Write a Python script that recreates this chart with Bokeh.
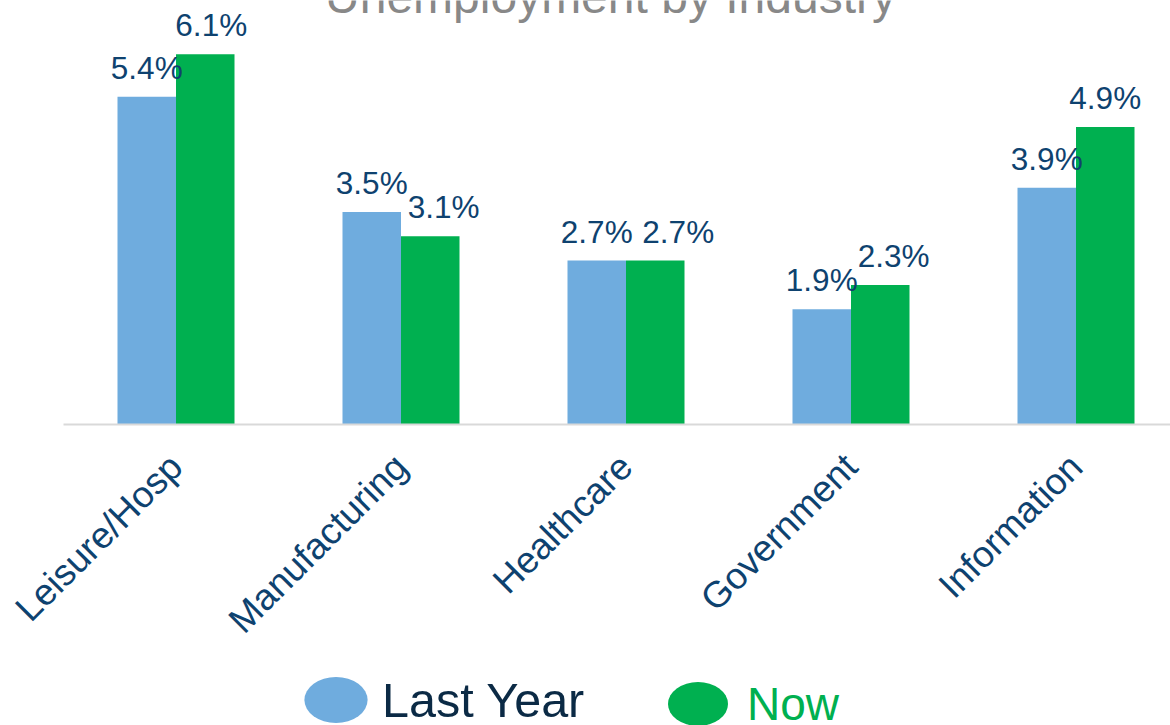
import math
from bokeh.plotting import figure
from bokeh.layouts import column
from bokeh.models import ColumnDataSource, Range1d, FixedTicker, Legend, LegendItem, Label
from bokeh.transform import dodge
from bokeh.core.properties import value
from bokeh.embed import file_html
from bokeh.resources import INLINE

# ---- data ----
categories = ["Leisure/Hosp", "Manufacturing", "Healthcare", "Government", "Information"]
last_year = [5.4, 3.5, 2.7, 1.9, 3.9]
now = [6.1, 3.1, 2.7, 2.3, 4.9]
series_names = ["Last Year", "Now"]
title_text = "Unemployment by Industry"

FONT = "Liberation Sans"
BLUE = "#6FACDE"
GREEN = "#00B050"
LABEL_COLOR = "#0E426F"
LEGEND_DARK = "#0B2A45"
TITLE_COLOR = "#888888"

W = 1170
H1 = 660
BORDER_LEFT = 63
BORDER_BOTTOM = 236
Y_MAX = 6.985
FRAME_H = H1 - BORDER_BOTTOM
PX_PER_UNIT = FRAME_H / Y_MAX

idx = list(range(len(categories)))
# nudge the "Now" value label to the right when it would collide with its neighbour
now_nudge = [max(0.0, 23 - 0.4 * abs(n - l) * PX_PER_UNIT) for l, n in zip(last_year, now)]
src = ColumnDataSource(dict(
    idx=idx, cat=categories, last=last_year, now=now,
    last_lbl=[f"{v:.1f}%" for v in last_year],
    now_lbl=[f"{v:.1f}%" for v in now],
    now_nudge=now_nudge,
))

p = figure(width=W, height=H1, output_backend="svg", toolbar_location=None,
           x_range=Range1d(-0.5, -0.5 + (W - BORDER_LEFT) / 225.0), y_range=Range1d(0, Y_MAX),
           y_axis_location=None,
           min_border_left=BORDER_LEFT, min_border_right=0, min_border_top=0,
           min_border_bottom=BORDER_BOTTOM)
p.outline_line_color = None
p.xgrid.visible = False
p.ygrid.visible = False

bw = 0.26
p.vbar(x=dodge("idx", -bw / 2, range=p.x_range), top="last", width=bw, source=src,
       fill_color=BLUE, line_color=None)
p.vbar(x=dodge("idx", bw / 2, range=p.x_range), top="now", width=bw, source=src,
       fill_color=GREEN, line_color=None)

lbl_style = dict(text_align="center", text_baseline="alphabetic", y_offset=-29,
                 text_font=value(FONT), text_font_size="31.5px", text_color=LABEL_COLOR)
p.text(x=dodge("idx", -bw / 2, range=p.x_range), y="last", text="last_lbl", source=src,
       **lbl_style)
p.text(x=dodge("idx", bw / 2, range=p.x_range), y="now", text="now_lbl", source=src,
       x_offset="now_nudge", **lbl_style)

ax = p.xaxis[0]
ax.ticker = FixedTicker(ticks=idx)
ax.major_label_overrides = {i: c for i, c in zip(idx, categories)}
ax.axis_line_color = "#D9D9D9"
ax.axis_line_width = 2
ax.major_tick_line_color = None
ax.minor_tick_line_color = None
ax.major_label_orientation = math.pi / 4
ax.major_label_text_font = FONT
ax.major_label_text_font_size = "37px"
ax.major_label_text_color = LABEL_COLOR
ax.major_label_standoff = 30

p.add_layout(Label(x=547, y=428, x_units="screen", y_units="screen", text=title_text,
                   text_align="center", text_baseline="alphabetic",
                   text_font=FONT, text_font_size="48px", text_color=TITLE_COLOR))

# ---- legend strip ----
H2 = 65
lg = figure(width=W, height=H2, output_backend="svg", toolbar_location=None,
            x_range=Range1d(0, 1), y_range=Range1d(0, 1),
            x_axis_location=None, y_axis_location=None,
            min_border_left=0, min_border_right=0, min_border_top=0, min_border_bottom=0)
lg.outline_line_color = None
lg.xgrid.visible = False
lg.ygrid.visible = False

r1 = lg.ellipse(x=[0.5], y=[-10], width=63, height=46, width_units="screen",
                height_units="screen", fill_color=BLUE, line_color=None)
r2 = lg.ellipse(x=[0.5], y=[-10], width=60, height=44, width_units="screen",
                height_units="screen", fill_color=GREEN, line_color=None)

common = dict(orientation="horizontal", padding=0,
              margin=0, border_line_color=None, background_fill_alpha=0,
              label_text_font=FONT)
leg1 = Legend(items=[LegendItem(label=series_names[0], renderers=[r1])],
              glyph_width=79, glyph_height=79, label_text_font_size="48.5px",
              location=(233, -14), label_standoff=7, label_text_color=LEGEND_DARK, **common)
leg2 = Legend(items=[LegendItem(label=series_names[1], renderers=[r2])],
              glyph_width=75, glyph_height=75, label_text_font_size="46px",
              location=(597, -16), label_standoff=12, label_text_color=GREEN, **common)
lg.add_layout(leg1)
lg.add_layout(leg2)

layout = column(p, lg, spacing=0)
open("out.html", "w").write(file_html(layout, INLINE))
